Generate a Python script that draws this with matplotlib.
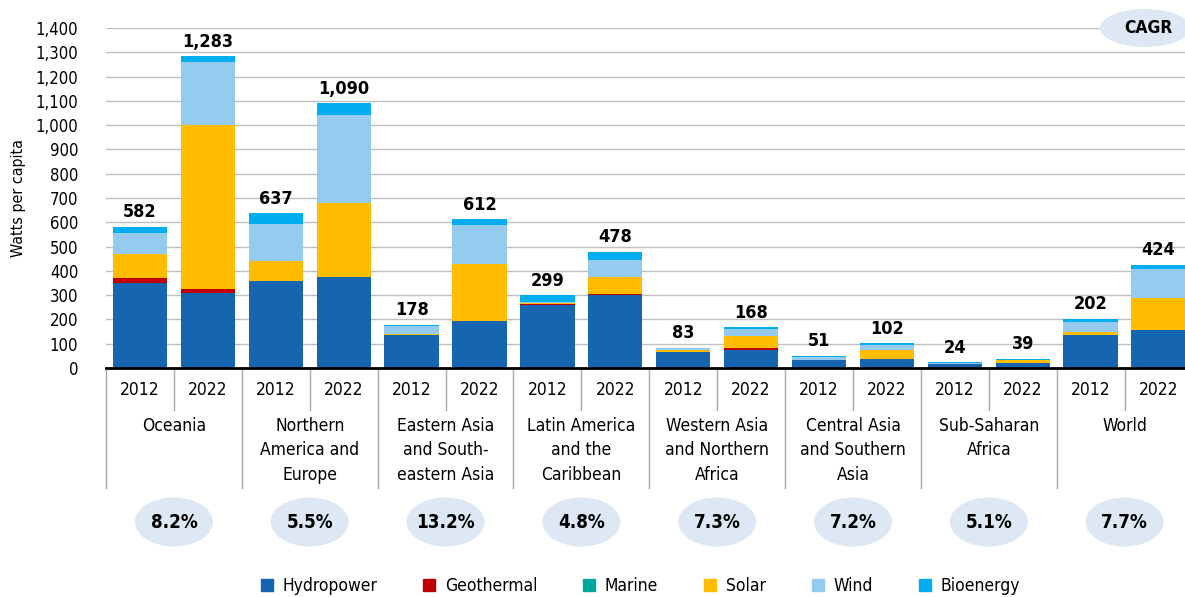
import numpy as np
import matplotlib
matplotlib.use('Agg')
import matplotlib.pyplot as plt
from matplotlib.patches import Ellipse
from matplotlib.transforms import blended_transform_factory
from matplotlib.lines import Line2D

plt.rcParams['font.family'] = ['DejaVu Sans']
plt.rcParams['font.stretch'] = 'condensed'

#============ Data ==============
regions = ['Oceania', 'Northern\nAmerica and\nEurope', 'Eastern Asia\nand South-\neastern Asia',
           'Latin America\nand the\nCaribbean', 'Western Asia\nand Northern\nAfrica',
           'Central Asia\nand Southern\nAsia', 'Sub-Saharan\nAfrica', 'World']
years = ['2012', '2022']
# bars ordered region by region: 2012, 2022
hydropower = [348, 307, 358, 373, 135, 194, 258, 299, 64, 76, 32, 37, 17, 21, 134, 155]
geothermal = [22, 19, 2, 2, 1, 1, 7, 6, 1, 7, 0, 1, 0, 1, 1, 1]
marine = [0, 0, 0, 0, 0, 0, 0, 0, 0, 0, 0, 0, 0, 0, 0, 0]
solar = [100, 674, 79, 306, 5, 232, 2, 70, 9, 50, 3, 35, 1, 9, 14, 134]
wind = [84, 261, 155, 360, 33, 162, 4, 69, 7, 28, 10, 22, 2, 4, 42, 117]
bioenergy = [28, 22, 43, 49, 4, 23, 28, 34, 2, 7, 6, 7, 4, 4, 11, 17]
totals = [582, 1283, 637, 1090, 178, 612, 299, 478, 83, 168, 51, 102, 24, 39, 202, 424]
cagr = ['8.2%', '5.5%', '13.2%', '4.8%', '7.3%', '7.2%', '5.1%', '7.7%']

series = [('Hydropower', hydropower, '#1565B0'),
          ('Geothermal', geothermal, '#C00000'),
          ('Marine', marine, '#00A99D'),
          ('Solar', solar, '#FFBC00'),
          ('Wind', wind, '#95CBEE'),
          ('Bioenergy', bioenergy, '#00AEEF')]

#============ Plot ==============
W, H = 1185, 597
fig = plt.figure(figsize=(W / 100, H / 100), dpi=100)
ax_left, ax_right, ax_bot, ax_top = 106, 1192.5, 368, 28
ax = fig.add_axes([ax_left / W, 1 - ax_bot / H, (ax_right - ax_left) / W, (ax_bot - ax_top) / H])

x = np.arange(len(totals))
bottom = np.zeros(len(totals))
for name, vals, col in series:
    ax.bar(x, vals, 0.8, bottom=bottom, color=col, linewidth=0, zorder=3)
    bottom += np.array(vals)

for xi, t in zip(x, totals):
    ax.annotate('{:,}'.format(t), (xi, t), xytext=(0, 4), textcoords='offset points',
                ha='center', va='bottom', fontsize=13, fontweight='bold', zorder=4)

ax.set_xlim(-0.5, len(totals) - 0.5)
ax.set_ylim(0, 1400)
ax.set_yticks(np.arange(0, 1401, 100))
ax.set_yticklabels(['{:,}'.format(v) for v in range(0, 1401, 100)], fontsize=12)
ax.tick_params(axis='y', length=0, pad=20)
ax.set_xticks([])
ax.grid(axis='y', color='#BFBFBF', linewidth=1, zorder=0)
for s in ['left', 'right', 'top']:
    ax.spines[s].set_visible(False)
ax.spines['bottom'].set_linewidth(2)
ax.spines['bottom'].set_zorder(5)
ax.set_ylabel('Watts per capita', fontsize=11.5)
ax.yaxis.set_label_coords(-0.074, 0.5)

# category axis below
trans = blended_transform_factory(ax.transData, ax.transAxes)
hpx = ax_bot - ax_top
def fy(ypix):
    return (ax_bot - ypix) / hpx

for i in range(len(totals) + 1):
    xb = i - 0.5
    ylow = fy(488) if i % 2 == 0 else fy(410)
    ax.add_line(Line2D([xb, xb], [0, ylow], transform=trans, color='#A6A6A6',
                       linewidth=1, clip_on=False))

for i in range(len(totals)):
    ax.text(i, fy(390), years[i % 2], transform=trans, ha='center', va='center', fontsize=12.5)

for g, name in enumerate(regions):
    cx = 2 * g + 0.5
    ax.text(cx, fy(417), name, transform=trans, ha='center', va='top', fontsize=12.5,
            linespacing=1.45)
    ax.add_patch(Ellipse((cx, fy(522)), 78 / 67.9, 49 / hpx, transform=trans,
                         facecolor='#DDE8F4', edgecolor='none', clip_on=False))
    ax.text(cx, fy(522), cagr[g], transform=trans, ha='center', va='center',
            fontsize=13.5, fontweight='bold')

# CAGR badge top right
ax.add_patch(Ellipse((14.8, fy(28)), 90 / 67.9, 38 / hpx, transform=trans,
                     facecolor='#DDE8F4', edgecolor='none', clip_on=False, zorder=6))
ax.text(14.85, fy(28), 'CAGR', transform=trans, ha='center', va='center',
        fontsize=12.5, fontweight='bold', zorder=7)

handles = [Line2D([], [], marker='s', linestyle='', markersize=8, color=c) for _, _, c in series]
fig.legend(handles, [s[0] for s in series], loc='center', bbox_to_anchor=(0.54, 1 - 586 / H),
           ncol=6, frameon=False, fontsize=12.5, columnspacing=2.6, handletextpad=0.5,
           handlelength=0.8)

plt.savefig('out.png', dpi=100)
